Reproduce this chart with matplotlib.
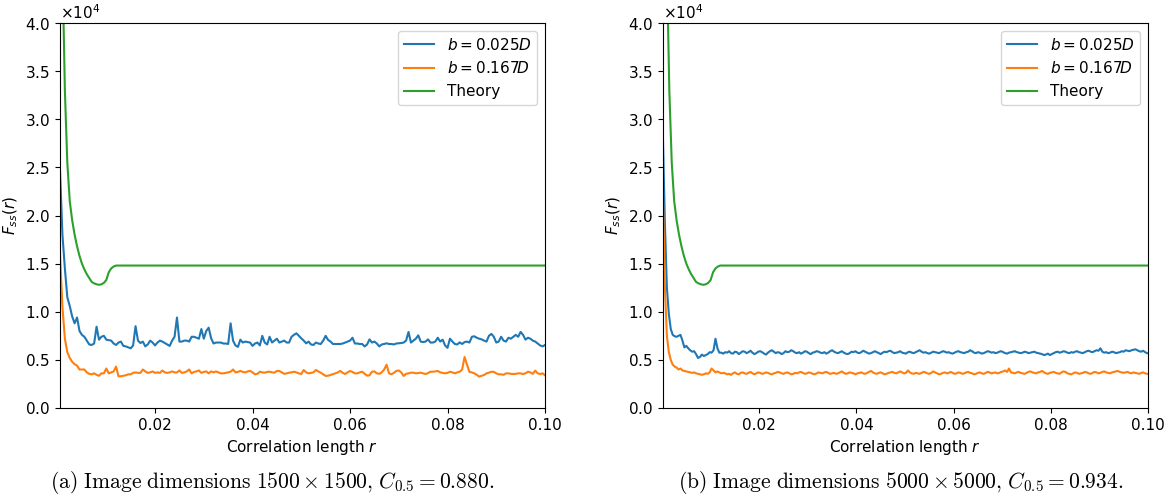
import numpy as np
import matplotlib.pyplot as plt

# correlation lengths sampled for each image size
r_a = 0.0005 * np.arange(1, 201)
r_b = 0.0002 + 0.0004 * np.arange(250)

# F_ss(r) in units of 1e4, image 1500 x 1500
Fa_fine = [2.47, 1.8, 1.45, 1.15, 1.06, 0.95, 0.88, 0.94, 0.80, 0.76,
           0.74, 0.70, 0.66, 0.655, 0.67, 0.845, 0.71, 0.74, 0.75, 0.71,
           0.705, 0.70, 0.67, 0.655, 0.68, 0.69, 0.645, 0.64, 0.63, 0.62,
           0.65, 0.85, 0.70, 0.675, 0.69, 0.64, 0.66, 0.70, 0.68, 0.65,
           0.68, 0.70, 0.69, 0.675, 0.66, 0.645, 0.70, 0.74, 0.94, 0.69,
           0.69, 0.70, 0.70, 0.69, 0.74, 0.74, 0.73, 0.72, 0.82, 0.72,
           0.80, 0.835, 0.725, 0.67, 0.68, 0.68, 0.68, 0.67, 0.67, 0.665,
           0.88, 0.70, 0.65, 0.635, 0.71, 0.68, 0.69, 0.685, 0.68, 0.645,
           0.67, 0.68, 0.65, 0.75, 0.68, 0.66, 0.74, 0.68, 0.70, 0.72,
           0.68, 0.69, 0.70, 0.68, 0.68, 0.74, 0.76, 0.776, 0.75, 0.724,
           0.70, 0.672, 0.69, 0.66, 0.655, 0.68, 0.67, 0.665, 0.70, 0.75,
           0.707, 0.69, 0.665, 0.665, 0.665, 0.665, 0.67, 0.68, 0.69, 0.70,
           0.73, 0.67, 0.67, 0.665, 0.665, 0.64, 0.66, 0.713, 0.68, 0.69,
           0.67, 0.64, 0.66, 0.665, 0.672, 0.665, 0.665, 0.66, 0.67, 0.672,
           0.675, 0.68, 0.70, 0.79, 0.68, 0.70, 0.72, 0.755, 0.69, 0.685,
           0.69, 0.713, 0.68, 0.68, 0.69, 0.73, 0.69, 0.71, 0.65, 0.625,
           0.72, 0.69, 0.665, 0.66, 0.682, 0.665, 0.685, 0.69, 0.68, 0.74,
           0.745, 0.73, 0.72, 0.713, 0.70, 0.69, 0.75, 0.77, 0.74, 0.68,
           0.69, 0.74, 0.70, 0.69, 0.73, 0.72, 0.74, 0.76, 0.74, 0.79,
           0.76, 0.71, 0.73, 0.72, 0.70, 0.69, 0.67, 0.65, 0.64, 0.655]
Fa_coarse = [1.6, 1.05, 0.72, 0.58, 0.52, 0.48, 0.455, 0.44, 0.40, 0.40,
             0.40, 0.37, 0.355, 0.35, 0.36, 0.345, 0.335, 0.36, 0.36, 0.41,
             0.36, 0.37, 0.38, 0.43, 0.33, 0.33, 0.335, 0.34, 0.35, 0.35,
             0.365, 0.37, 0.365, 0.365, 0.40, 0.38, 0.365, 0.37, 0.38, 0.365,
             0.37, 0.365, 0.39, 0.37, 0.365, 0.37, 0.38, 0.37, 0.37, 0.39,
             0.365, 0.37, 0.38, 0.40, 0.36, 0.375, 0.38, 0.39, 0.365, 0.375,
             0.38, 0.36, 0.38, 0.37, 0.38, 0.37, 0.36, 0.36, 0.365, 0.37,
             0.377, 0.40, 0.37, 0.375, 0.385, 0.375, 0.37, 0.38, 0.385, 0.37,
             0.35, 0.355, 0.377, 0.37, 0.367, 0.375, 0.377, 0.37, 0.367, 0.385,
             0.385, 0.37, 0.355, 0.36, 0.367, 0.37, 0.377, 0.37, 0.36, 0.353,
             0.395, 0.37, 0.36, 0.365, 0.37, 0.395, 0.38, 0.367, 0.35, 0.333,
             0.335, 0.343, 0.35, 0.36, 0.37, 0.385, 0.365, 0.353, 0.37, 0.385,
             0.375, 0.36, 0.36, 0.37, 0.377, 0.355, 0.336, 0.34, 0.377, 0.38,
             0.36, 0.355, 0.37, 0.40, 0.45, 0.36, 0.35, 0.365, 0.385, 0.39,
             0.37, 0.333, 0.355, 0.36, 0.367, 0.367, 0.36, 0.363, 0.367, 0.36,
             0.353, 0.363, 0.377, 0.377, 0.38, 0.385, 0.37, 0.365, 0.36, 0.365,
             0.377, 0.37, 0.36, 0.37, 0.377, 0.40, 0.53, 0.45, 0.375, 0.37,
             0.36, 0.345, 0.326, 0.335, 0.343, 0.36, 0.367, 0.377, 0.375, 0.36,
             0.35, 0.35, 0.345, 0.36, 0.36, 0.355, 0.353, 0.355, 0.36, 0.36,
             0.353, 0.36, 0.377, 0.37, 0.355, 0.388, 0.36, 0.353, 0.36, 0.34]

# F_ss(r) in units of 1e4, image 5000 x 5000
Fb_fine = [2.78, 1.9, 1.25, 0.98, 0.82, 0.76, 0.745, 0.74, 0.75, 0.76,
           0.70, 0.63, 0.645, 0.62, 0.60, 0.585, 0.59, 0.56, 0.52, 0.53,
           0.555, 0.54, 0.55, 0.56, 0.58, 0.575, 0.60, 0.72, 0.62, 0.575,
           0.575, 0.565, 0.58, 0.575, 0.59, 0.57, 0.565, 0.585, 0.58, 0.56,
           0.575, 0.59, 0.585, 0.57, 0.58, 0.595, 0.575, 0.56, 0.57, 0.585,
           0.59, 0.58, 0.565, 0.555, 0.575, 0.59, 0.60, 0.585, 0.57, 0.58,
           0.575, 0.56, 0.57, 0.59, 0.58, 0.585, 0.60, 0.59, 0.575, 0.57,
           0.58, 0.565, 0.575, 0.59, 0.585, 0.57, 0.56, 0.575, 0.58, 0.59,
           0.585, 0.575, 0.57, 0.58, 0.565, 0.575, 0.59, 0.60, 0.585, 0.575,
           0.57, 0.58, 0.59, 0.575, 0.565, 0.56, 0.57, 0.585, 0.58, 0.59,
           0.575, 0.57, 0.58, 0.595, 0.585, 0.575, 0.565, 0.57, 0.58, 0.59,
           0.58, 0.57, 0.56, 0.575, 0.585, 0.58, 0.59, 0.595, 0.58, 0.57,
           0.575, 0.58, 0.59, 0.575, 0.57, 0.565, 0.58, 0.585, 0.575, 0.57,
           0.58, 0.59, 0.60, 0.585, 0.575, 0.58, 0.57, 0.565, 0.575, 0.585,
           0.58, 0.575, 0.57, 0.58, 0.59, 0.585, 0.575, 0.58, 0.57, 0.565,
           0.575, 0.585, 0.59, 0.58, 0.575, 0.57, 0.58, 0.585, 0.60, 0.59,
           0.575, 0.57, 0.58, 0.575, 0.565, 0.57, 0.58, 0.59, 0.585, 0.575,
           0.58, 0.57, 0.575, 0.585, 0.59, 0.58, 0.57, 0.565, 0.575, 0.58,
           0.585, 0.59, 0.58, 0.575, 0.57, 0.575, 0.585, 0.58, 0.57, 0.575,
           0.58, 0.585, 0.575, 0.57, 0.565, 0.56, 0.55, 0.555, 0.565, 0.55,
           0.56, 0.57, 0.58, 0.585, 0.575, 0.58, 0.59, 0.585, 0.575, 0.57,
           0.58, 0.575, 0.585, 0.59, 0.58, 0.575, 0.57, 0.58, 0.59, 0.595,
           0.585, 0.58, 0.59, 0.60, 0.595, 0.62, 0.585, 0.575, 0.58, 0.57,
           0.575, 0.585, 0.58, 0.57, 0.575, 0.58, 0.59, 0.585, 0.60, 0.595,
           0.59, 0.60, 0.605, 0.61, 0.60, 0.59, 0.585, 0.595, 0.58, 0.57]
Fb_coarse = [2.16, 1.25, 0.75, 0.58, 0.50, 0.45, 0.43, 0.42, 0.40, 0.41,
             0.39, 0.385, 0.38, 0.375, 0.37, 0.365, 0.37, 0.36, 0.355, 0.35,
             0.345, 0.35, 0.36, 0.355, 0.37, 0.41, 0.39, 0.37, 0.38, 0.37,
             0.36, 0.365, 0.36, 0.35, 0.355, 0.345, 0.36, 0.37, 0.355, 0.35,
             0.365, 0.37, 0.36, 0.355, 0.365, 0.375, 0.36, 0.35, 0.36, 0.37,
             0.365, 0.355, 0.36, 0.37, 0.365, 0.355, 0.35, 0.36, 0.365, 0.375,
             0.37, 0.36, 0.355, 0.365, 0.37, 0.36, 0.35, 0.355, 0.365, 0.36,
             0.37, 0.375, 0.365, 0.355, 0.36, 0.37, 0.365, 0.355, 0.35, 0.36,
             0.37, 0.365, 0.36, 0.37, 0.375, 0.365, 0.355, 0.36, 0.365, 0.355,
             0.36, 0.37, 0.38, 0.365, 0.355, 0.36, 0.37, 0.365, 0.36, 0.35,
             0.36, 0.365, 0.37, 0.36, 0.355, 0.365, 0.375, 0.385, 0.37, 0.36,
             0.355, 0.365, 0.37, 0.36, 0.35, 0.355, 0.365, 0.37, 0.375, 0.365,
             0.36, 0.37, 0.38, 0.37, 0.36, 0.365, 0.39, 0.37, 0.36, 0.355,
             0.365, 0.36, 0.355, 0.365, 0.375, 0.37, 0.36, 0.355, 0.365, 0.38,
             0.37, 0.36, 0.35, 0.355, 0.365, 0.37, 0.36, 0.365, 0.375, 0.365,
             0.355, 0.36, 0.37, 0.365, 0.355, 0.36, 0.37, 0.375, 0.365, 0.36,
             0.35, 0.355, 0.365, 0.37, 0.36, 0.355, 0.365, 0.375, 0.37, 0.36,
             0.365, 0.37, 0.36, 0.365, 0.375, 0.38, 0.39, 0.375, 0.41, 0.37,
             0.365, 0.36, 0.37, 0.375, 0.365, 0.36, 0.355, 0.365, 0.375, 0.38,
             0.37, 0.365, 0.36, 0.37, 0.375, 0.385, 0.37, 0.36, 0.355, 0.365,
             0.37, 0.375, 0.365, 0.36, 0.355, 0.37, 0.38, 0.375, 0.36, 0.355,
             0.35, 0.36, 0.37, 0.365, 0.355, 0.36, 0.365, 0.375, 0.37, 0.36,
             0.355, 0.365, 0.375, 0.37, 0.36, 0.365, 0.375, 0.38, 0.37, 0.365,
             0.36, 0.37, 0.375, 0.38, 0.385, 0.375, 0.37, 0.365, 0.37, 0.375,
             0.365, 0.36, 0.37, 0.365, 0.36, 0.355, 0.365, 0.37, 0.36, 0.355]

# theoretical curve, same for both image sizes
r_theory = [0.0005, 0.001, 0.0015, 0.002, 0.0025, 0.003, 0.0035, 0.004,
            0.0045, 0.005, 0.0055, 0.006, 0.0065, 0.007, 0.0075, 0.008,
            0.0085, 0.009, 0.0095, 0.010, 0.0105, 0.011, 0.0115, 0.012, 0.1]
F_theory = [6.5, 4.6, 3.3, 2.55, 2.15, 1.95, 1.80, 1.68,
            1.58, 1.50, 1.44, 1.39, 1.35, 1.31, 1.295, 1.285,
            1.28, 1.285, 1.30, 1.33, 1.41, 1.45, 1.47, 1.48, 1.48]

captions = [r'$\mathrm{(a)\ Image\ dimensions\ }1500\times1500\mathrm{,}\ C_{0.5}=0.880\mathrm{.}$',
            r'$\mathrm{(b)\ Image\ dimensions\ }5000\times5000\mathrm{,}\ C_{0.5}=0.934\mathrm{.}$']

plt.rcParams['font.size'] = 11

fig = plt.figure(figsize=(11.7, 5.0), dpi=100)
ax_a = fig.add_axes([60/1170, 92/500, 485/1170, 385/500])
ax_b = fig.add_axes([663/1170, 92/500, 485/1170, 385/500])

panels = [(ax_a, r_a, Fa_fine, Fa_coarse), (ax_b, r_b, Fb_fine, Fb_coarse)]
for ax, r, fine, coarse in panels:
    ax.plot(r, np.array(fine)*1e4, color='C0', lw=1.5, label=r'$b = 0.025D$')
    ax.plot(r, np.array(coarse)*1e4, color='C1', lw=1.5, label=r'$b = 0.167D$')
    ax.plot(r_theory, np.array(F_theory)*1e4, color='C2', lw=1.5,
            label='Theory')
    ax.set_xlim(r[0], 0.1)
    ax.set_ylim(0, 4e4)
    ax.set_xticks([0.02, 0.04, 0.06, 0.08, 0.10])
    ax.set_yticks(np.arange(0, 40001, 5000))
    ax.ticklabel_format(axis='y', style='sci', scilimits=(0, 0),
                        useMathText=True)
    ax.set_xlabel('Correlation length $r$')
    ax.set_ylabel('$F_{ss}(r)$')
    ax.legend(loc='upper right')

# subfigure captions in Computer Modern
fig.text(272/1170, 1 - 483/500, captions[0], ha='center', va='center',
         fontsize=15.5, math_fontfamily='cm')
fig.text(901/1170, 1 - 483/500, captions[1], ha='center', va='center',
         fontsize=15.5, math_fontfamily='cm')

fig.savefig('out.png', dpi=100)
